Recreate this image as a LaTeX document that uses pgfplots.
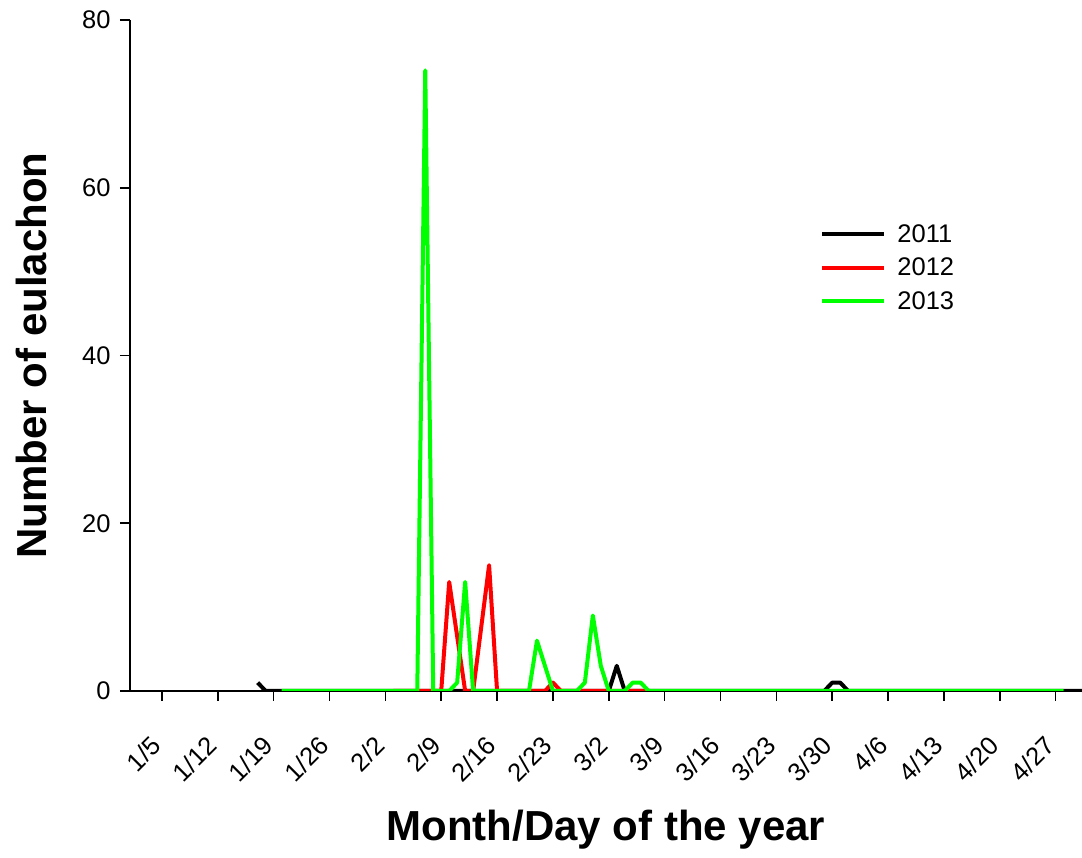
\documentclass[border=0pt]{standalone}
\usepackage{fontspec}
\setmainfont{Liberation Sans}
\usepackage{pgfplots}
\pgfplotsset{compat=1.18}

% x = day of the year (1/1 = 1)
\begin{document}
\begin{tikzpicture}
\begin{axis}[
    scale only axis,
    width=952pt, height=671pt,
    xmin=1, xmax=120.3,
    ymin=0, ymax=80,
    axis lines=left,
    axis line style={-, line width=1.6pt},
    tick style={line width=1.6pt, black},
    tick align=outside,
    major tick length=10pt,
    xtick={5,12,...,117},
    xticklabels={1/5,1/12,1/19,1/26,2/2,2/9,2/16,2/23,3/2,3/9,3/16,3/23,3/30,4/6,4/13,4/20,4/27},
    ytick={0,20,...,80},
    /pgf/number format/assume math mode=true,
    ticklabel style={font=\fontsize{25.5}{30}\selectfont},
    xticklabel style={xshift=-3pt, yshift=-38pt, rotate=45, anchor=east},
    yticklabel style={xshift=-6pt},
    every axis x label/.style={at={(rel axis cs:0.5,0)}, yshift=-150pt, anchor=base},
    every axis y label/.style={at={(rel axis cs:0,0.5)}, xshift=-83pt, rotate=90, anchor=base},
    label style={font=\fontsize{42}{48}\selectfont\bfseries},
    xlabel={Month/Day of the year},
    ylabel={Number of eulachon},
    legend style={draw=none, fill=none, at={(rel axis cs:0.725,0.698)}, anchor=north west,
        font=\fontsize{25.5}{30}\selectfont, row sep=10pt, column sep=5pt, inner sep=0pt,
        nodes={inner xsep=6pt}},
    legend cell align=left,
    legend image code/.code={\draw[#1] (0pt,0pt) -- (62pt,0pt);},
    line join=round,
]
\addplot[black, line width=4pt] coordinates {
    (17,1) (18,0) (61,0) (62,3) (63,0) (88,0) (89,1) (90,1) (91,0) (121,0)};
\addplot[red, line width=4pt] coordinates {
    (34,0) (40,0) (41,13) (43,0) (44,0) (46,15) (47,0) (53,0) (54,1) (55,0) (66,0)};
\addplot[color={rgb,255:red,0;green,255;blue,0}, line width=4pt] coordinates {
    (20,0) (37,0) (38,74) (39,0) (41,0) (42,1) (43,13) (44,0) (51,0) (52,6) (54,0)
    (57,0) (58,1) (59,9) (60,3) (61,0) (63,0) (64,1) (65,1) (66,0) (118,0)};
\legend{2011,2012,2013}
\end{axis}
\pgfresetboundingbox
\path[use as bounding box] ([xshift=-130pt,yshift=-167pt]current axis.south west)
    rectangle ([yshift=20pt]current axis.north east);
\end{tikzpicture}
\end{document}
